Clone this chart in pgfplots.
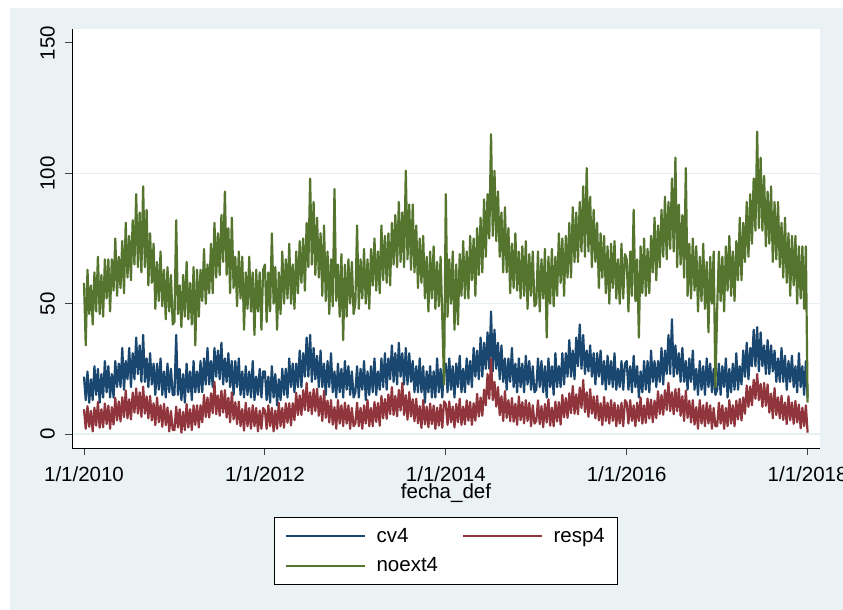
\documentclass[border=0pt]{standalone}
\usepackage{fontspec}
\setmainfont{Liberation Sans}
\usepackage{pgfplots}
\usepackage{pgfplotstable}
\pgfplotsset{compat=1.18}
\definecolor{bgc}{RGB}{234,242,243}
\definecolor{gridc}{RGB}{230,239,241}
\definecolor{stnavy}{RGB}{26,71,111}
\definecolor{stmaroon}{RGB}{144,53,59}
\definecolor{stgreen}{RGB}{85,117,47}
\newcommand\fsz{\fontsize{20.5bp}{24bp}\selectfont}
\pgfplotstableread{
w g b r
0 58 22 9.5
1 34 13 2
2 63 24 10.7
3 46 12 2.8
4 57 21 8.9
5 42 13 1
6 62 26 10.1
7 47 15 3.2
8 68 25 12.3
9 46 12 2.4
10 61 23 9.5
11 45 14 2.6
12 67 28 11.7
13 52 16 3.8
14 67 26 10.9
15 47 14 2
16 67 23 10.3
17 55 14 3.6
18 75 28 13.9
19 53 18 5.2
20 68 27 12.5
21 56 18 4.8
22 74 33 14.1
23 54 17 6.4
24 81 28 16.7
25 60 21 6
26 76 33 13.3
27 59 18 5.6
28 82 31 15.9
29 65 21 8.2
30 92 37 17.5
31 64 23 7.8
32 85 34 16
33 62 20 6.6
34 95 38 18.2
35 64 20 7.8
36 86 29 14.4
37 57 18 6
38 77 31 14.6
39 58 19 5.2
40 73 27 11.8
41 48 15 3.4
42 66 27 14
43 51 17 4.5
44 70 29 11
45 49 15 2.8
46 63 24 11.6
47 44 14 3.4
48 64 27 10.2
49 47 16 1
50 61 25 8.8
51 42 15 1.6
52 43 15 1.5
53 82 38 10.5
54 46 15 2.5
55 57 25 9.5
56 41 13 0.5
57 61 23 8.5
58 45 12 1.5
59 66 27 11.5
60 44 16 2.5
61 58 24 9.5
62 42 13 1.5
63 64 28 11
64 34 16 3.5
65 63 24 11
66 45 16 2.5
67 63 28 11
68 51 16 4.5
69 71 29 15
70 50 19 6.5
71 65 33 14
72 54 19 6.3
73 73 28 15.6
74 54 18 8
75 81 33 20
76 60 22 7.6
77 77 32 14.8
78 61 21 7
79 84 35 16.6
80 66 19 8.2
81 93 29 16.8
82 61 20 6.3
83 79 31 13.9
84 54 18 4.5
85 83 28 16
86 56 15 5.6
87 68 28 12.2
88 49 18 3.8
89 70 29 12.4
90 52 15 3
91 68 24 9.6
92 40 14 1.3
93 62 26 12
94 48 15 3
95 68 24 10
96 47 14 2
97 62 28 11
98 38 13 3
99 63 22 10
100 47 15 1
101 62 25 9
102 40 14 2
103 63 24 10
104 65 24 9
105 43 13 2
106 62 22 11
107 47 12 3
108 77 26 10
109 50 14 1
110 64 23 9
111 40 11 2
112 62 21 12
113 46 13 3
114 70 25 10
115 50 15 2.4
116 67 25 11.8
117 52 14 4.3
118 73 29 11.8
119 50 18 3.3
120 65 27 11.8
121 48 16 5.3
122 70 27 15.8
123 54 18 7.3
124 74 32 14.8
125 58 18 7.3
126 75 31 16.8
127 55 22 9.2
128 81 37 19.6
129 64 22 8.8
130 98 38 16
131 65 20 7.6
132 89 33 17.2
133 61 21 8.8
134 83 30 17.4
135 60 18 7
136 77 32 14.5
137 53 18 5
138 80 27 16.6
139 51 15 6.2
140 70 28 12.8
141 46 18 4.4
142 67 31 13
143 49 16 3.6
144 94 24 10.3
145 51 14 2
146 65 27 13
147 45 16 4
148 69 25 11
149 36 14 3
150 65 28 12
151 45 17 4
152 67 26 11
153 50 15 2
154 66 24 10
155 46 14 3
156 50 16 4
157 80 26 12
158 48 14 3
159 67 25 10
160 52 17 2
161 71 28 11
162 50 13 4
163 67 24 13
164 48 15 3
165 71 26 10
166 57 16 3
167 75 29 12.3
168 55 15 4.6
169 70 24 11.9
170 54 17 3.2
171 80 29 14.6
172 59 18 6
173 76 31 13.4
174 58 17 5.8
175 77 29 15.2
176 57 21 7.6
177 81 34 18
178 65 20 7.3
179 84 31 14.6
180 64 19 6.8
181 89 35 16.9
182 66 22 9
183 85 31 19.6
184 64 19 7.3
185 101 33 14.9
186 67 19 5.5
187 88 31 16.1
188 63 20 6.7
189 88 28 13.3
190 62 16 4.9
191 80 26 13.5
192 56 16 4.1
193 75 29 10.7
194 58 16 2.3
195 76 26 13
196 52 12 3.7
197 68 24 10.5
198 47 16 2.6
199 70 26 11.7
200 52 14 3.8
201 72 24 10.9
202 48 14 2
203 66 29 10.1
204 49 16 3.2
205 68 25 11.3
206 44 14 2.4
207 19 27 12.5
208 92 27 11.5
209 45 16 3.5
210 67 29 12.5
211 50 17 4.5
212 70 26 10.5
213 40 14 2.5
214 65 27 11.5
215 42 18 4.5
216 69 30 13.5
217 53 16 3.5
218 74 25 10.5
219 52 16 3.7
220 70 29 12.9
221 52 19 5.1
222 76 28 12.3
223 59 18 3.5
224 75 33 11.8
225 53 22 5.1
226 79 32 15.4
227 61 21 6.7
228 83 37 14
229 62 22 7
230 90 35 17
231 68 25 11
232 92 39 23
233 75 25 13.5
234 115 47 29
235 76 24 13
236 101 40 20
237 74 25 10.5
238 93 35 18
239 68 21 7.2
240 85 34 14.5
241 62 20 5
242 87 29 16.5
243 62 17 6.2
244 79 29 13
245 54 20 4.9
246 73 33 13.8
247 56 18 4.7
248 77 27 11.6
249 55 16 3.5
250 70 29 14.4
251 52 18 5.3
252 72 27 12.2
253 53 16 4.1
254 74 30 13
255 48 19 5
256 69 28 12
257 53 17 3
258 70 26 11
259 49 16 4
260 50 17 5
261 70 29 12.9
262 47 18 3.8
263 67 28 10.7
264 52 16 2.6
265 71 26 11.5
266 37 14 4.4
267 68 29 13.3
268 50 18 3.2
269 71 26 10.1
270 49 15 3
271 68 31 12.4
272 53 18 4.8
273 77 26 12.2
274 58 18 3.6
275 75 31 15
276 53 19 6.4
277 76 31 13.8
278 60 22 6.2
279 81 36 15.6
280 60 22 8
281 87 32 18.4
282 66 21 7.8
283 85 37 15.2
284 66 26 7.6
285 89 42 17.8
286 70 25 10
287 95 38 20.7
288 68 23 8.4
289 102 32 16
290 70 24 6.6
291 91 34 17.2
292 64 22 7.8
293 86 31 14.4
294 66 19 6
295 81 31 14.6
296 56 22 5.2
297 77 32 11.8
298 60 19 3.4
299 76 28 14.2
300 54 17 5
301 72 30 12
302 50 19 4
303 73 28 13
304 56 18 5
305 74 31 12
306 52 17 3
307 67 25 11
308 50 18 4
309 73 28 12
310 52 17 3
311 69 27 13
312 67 28 12
313 47 17 4
314 70 26 13
315 53 16 5
316 86 30 11
317 51 18 3
318 67 26 12
319 37 14 5
320 72 24 14
321 54 16 4
322 75 28 11
323 53 17 4.3
324 71 28 13.6
325 54 16 5.9
326 76 32 13.2
327 62 20 4.5
328 83 28 12.8
329 59 18 6.1
330 80 28 16.4
331 64 20 7.7
332 86 33 15
333 68 19 7.4
334 91 32 16.8
335 67 23 9.2
336 89 38 19.6
337 71 23 8.8
338 98 44 16
339 70 22 7.6
340 106 34 17.2
341 64 23 8.8
342 88 31 17.4
343 65 20 7
344 84 33 14.5
345 60 20 5
346 102 28 16.6
347 53 17 6.2
348 73 29 12.8
349 52 20 4.4
350 75 32 13
351 55 17 3.6
352 72 25 10.3
353 47 15 2
354 68 28 13
355 51 17 4
356 73 26 11
357 48 15 3
358 66 29 12
359 39 18 4
360 68 27 11
361 50 16 2
362 70 25 10
363 18 15 3
364 48 17 3
365 70 27 12
366 51 15 4
367 68 26 11
368 47 18 2
369 72 29 10
370 55 14 3
371 76 25 13
372 53 16 4
373 70 27 11
374 51 17 3
375 74 31 12.8
376 59 17 5.6
377 83 26 13.4
378 59 19 5.2
379 81 32 14
380 66 22 7.8
381 89 35 18.6
382 68 21 10.4
383 92 33 18.2
384 73 26 11
385 98 40 20.8
386 78 26 13.5
387 116 41 23
388 79 24 13
389 106 39 19.2
390 78 26 10.4
391 99 34 19.6
392 72 23 10.8
393 93 36 19
394 73 23 8.2
395 95 34 15.5
396 66 24 6
397 89 32 17.6
398 67 20 7.3
399 89 29 14.1
400 64 20 6
401 81 33 14.7
402 60 20 5.4
403 83 30 12.1
404 58 17 3.8
405 77 28 14.5
406 53 20 5.3
407 76 30 12.1
408 57 18 3.9
409 76 26 12.7
410 50 16 4.5
411 72 31 11.3
412 52 18 2.2
413 72 26 10.1
414 48 15 3
415 72 28 11
416 12 14 0.5
}\datatab
\begin{document}
\begin{tikzpicture}
\fill[white] (0bp,0bp) rectangle (843bp,-610bp);
\fill[bgc] (10bp,-8bp) rectangle (843bp,-610bp);
\begin{axis}[
  at={(72bp,-448bp)}, anchor=south west,
  scale only axis, width=748bp, height=419bp,
  xmin=2009.8673, xmax=2018.137, ymin=-5.37, ymax=155.35,
  axis x line*=bottom, axis y line*=left,
  axis line style={black, line width=0.9bp, -},
  axis background/.style={fill=white},
  xtick={2010,2012,2014,2016,2018},
  xticklabels={1/1/2010,1/1/2012,1/1/2014,1/1/2016,1/1/2018},
  ytick={0,50,100},
  yticklabels={},
  extra y ticks={150},
  extra y tick labels={},
  extra y tick style={grid=none},
  tick align=outside, major tick length=7bp,
  tick style={black!75, line width=0.9bp},
  ymajorgrids, grid style={gridc, line width=1.2bp},
  every tick label/.append style={font=\fsz},
  xticklabel style={yshift=-8bp},
  label style={font=\fsz},
  xlabel={fecha\_def},
  xlabel style={yshift=5bp},
  clip mode=individual,
  legend columns=2,
  legend cell align=left,
  legend style={at={(0.5,-0.164)}, anchor=north, draw=black, line width=0.8bp,
    fill=white, font=\fsz, inner xsep=11bp, inner ysep=9bp, row sep=10bp,
    /tikz/every even column/.append style={column sep=22bp}},
]
\addplot[stnavy, line width=2.2bp, line join=round, forget plot] table[x expr=2010+\thisrow{w}/52, y=b] {\datatab};
\addplot[stmaroon, line width=2.2bp, line join=round, forget plot] table[x expr=2010+\thisrow{w}/52, y=r] {\datatab};
\addplot[stgreen, line width=2.2bp, line join=round, forget plot] table[x expr=2010+\thisrow{w}/52, y=g] {\datatab};
\addlegendimage{legend image code/.code={\draw[stnavy, line width=2bp] (0bp,0bp) -- (79bp,0bp); \path (88bp,0bp);}}
\addlegendentry{cv4}
\addlegendimage{legend image code/.code={\draw[stmaroon, line width=2bp] (0bp,0bp) -- (79bp,0bp); \path (88bp,0bp);}}
\addlegendentry{resp4}
\addlegendimage{legend image code/.code={\draw[stgreen, line width=2bp] (0bp,0bp) -- (79bp,0bp); \path (88bp,0bp);}}
\addlegendentry{noext4}
\node[rotate=90, anchor=south, inner sep=0pt, font=\fsz] at ([xshift=-17bp]axis cs:2009.8673,0) {0};
\node[rotate=90, anchor=south, inner sep=0pt, font=\fsz] at ([xshift=-17bp]axis cs:2009.8673,50) {50};
\node[rotate=90, anchor=south, inner sep=0pt, font=\fsz] at ([xshift=-17bp]axis cs:2009.8673,100) {100};
\node[rotate=90, anchor=south, inner sep=0pt, font=\fsz] at ([xshift=-17bp]axis cs:2009.8673,150) {150};
\end{axis}
\pgfresetboundingbox
\path (0bp,0bp) rectangle (843bp,-610bp);
\end{tikzpicture}
\end{document}
